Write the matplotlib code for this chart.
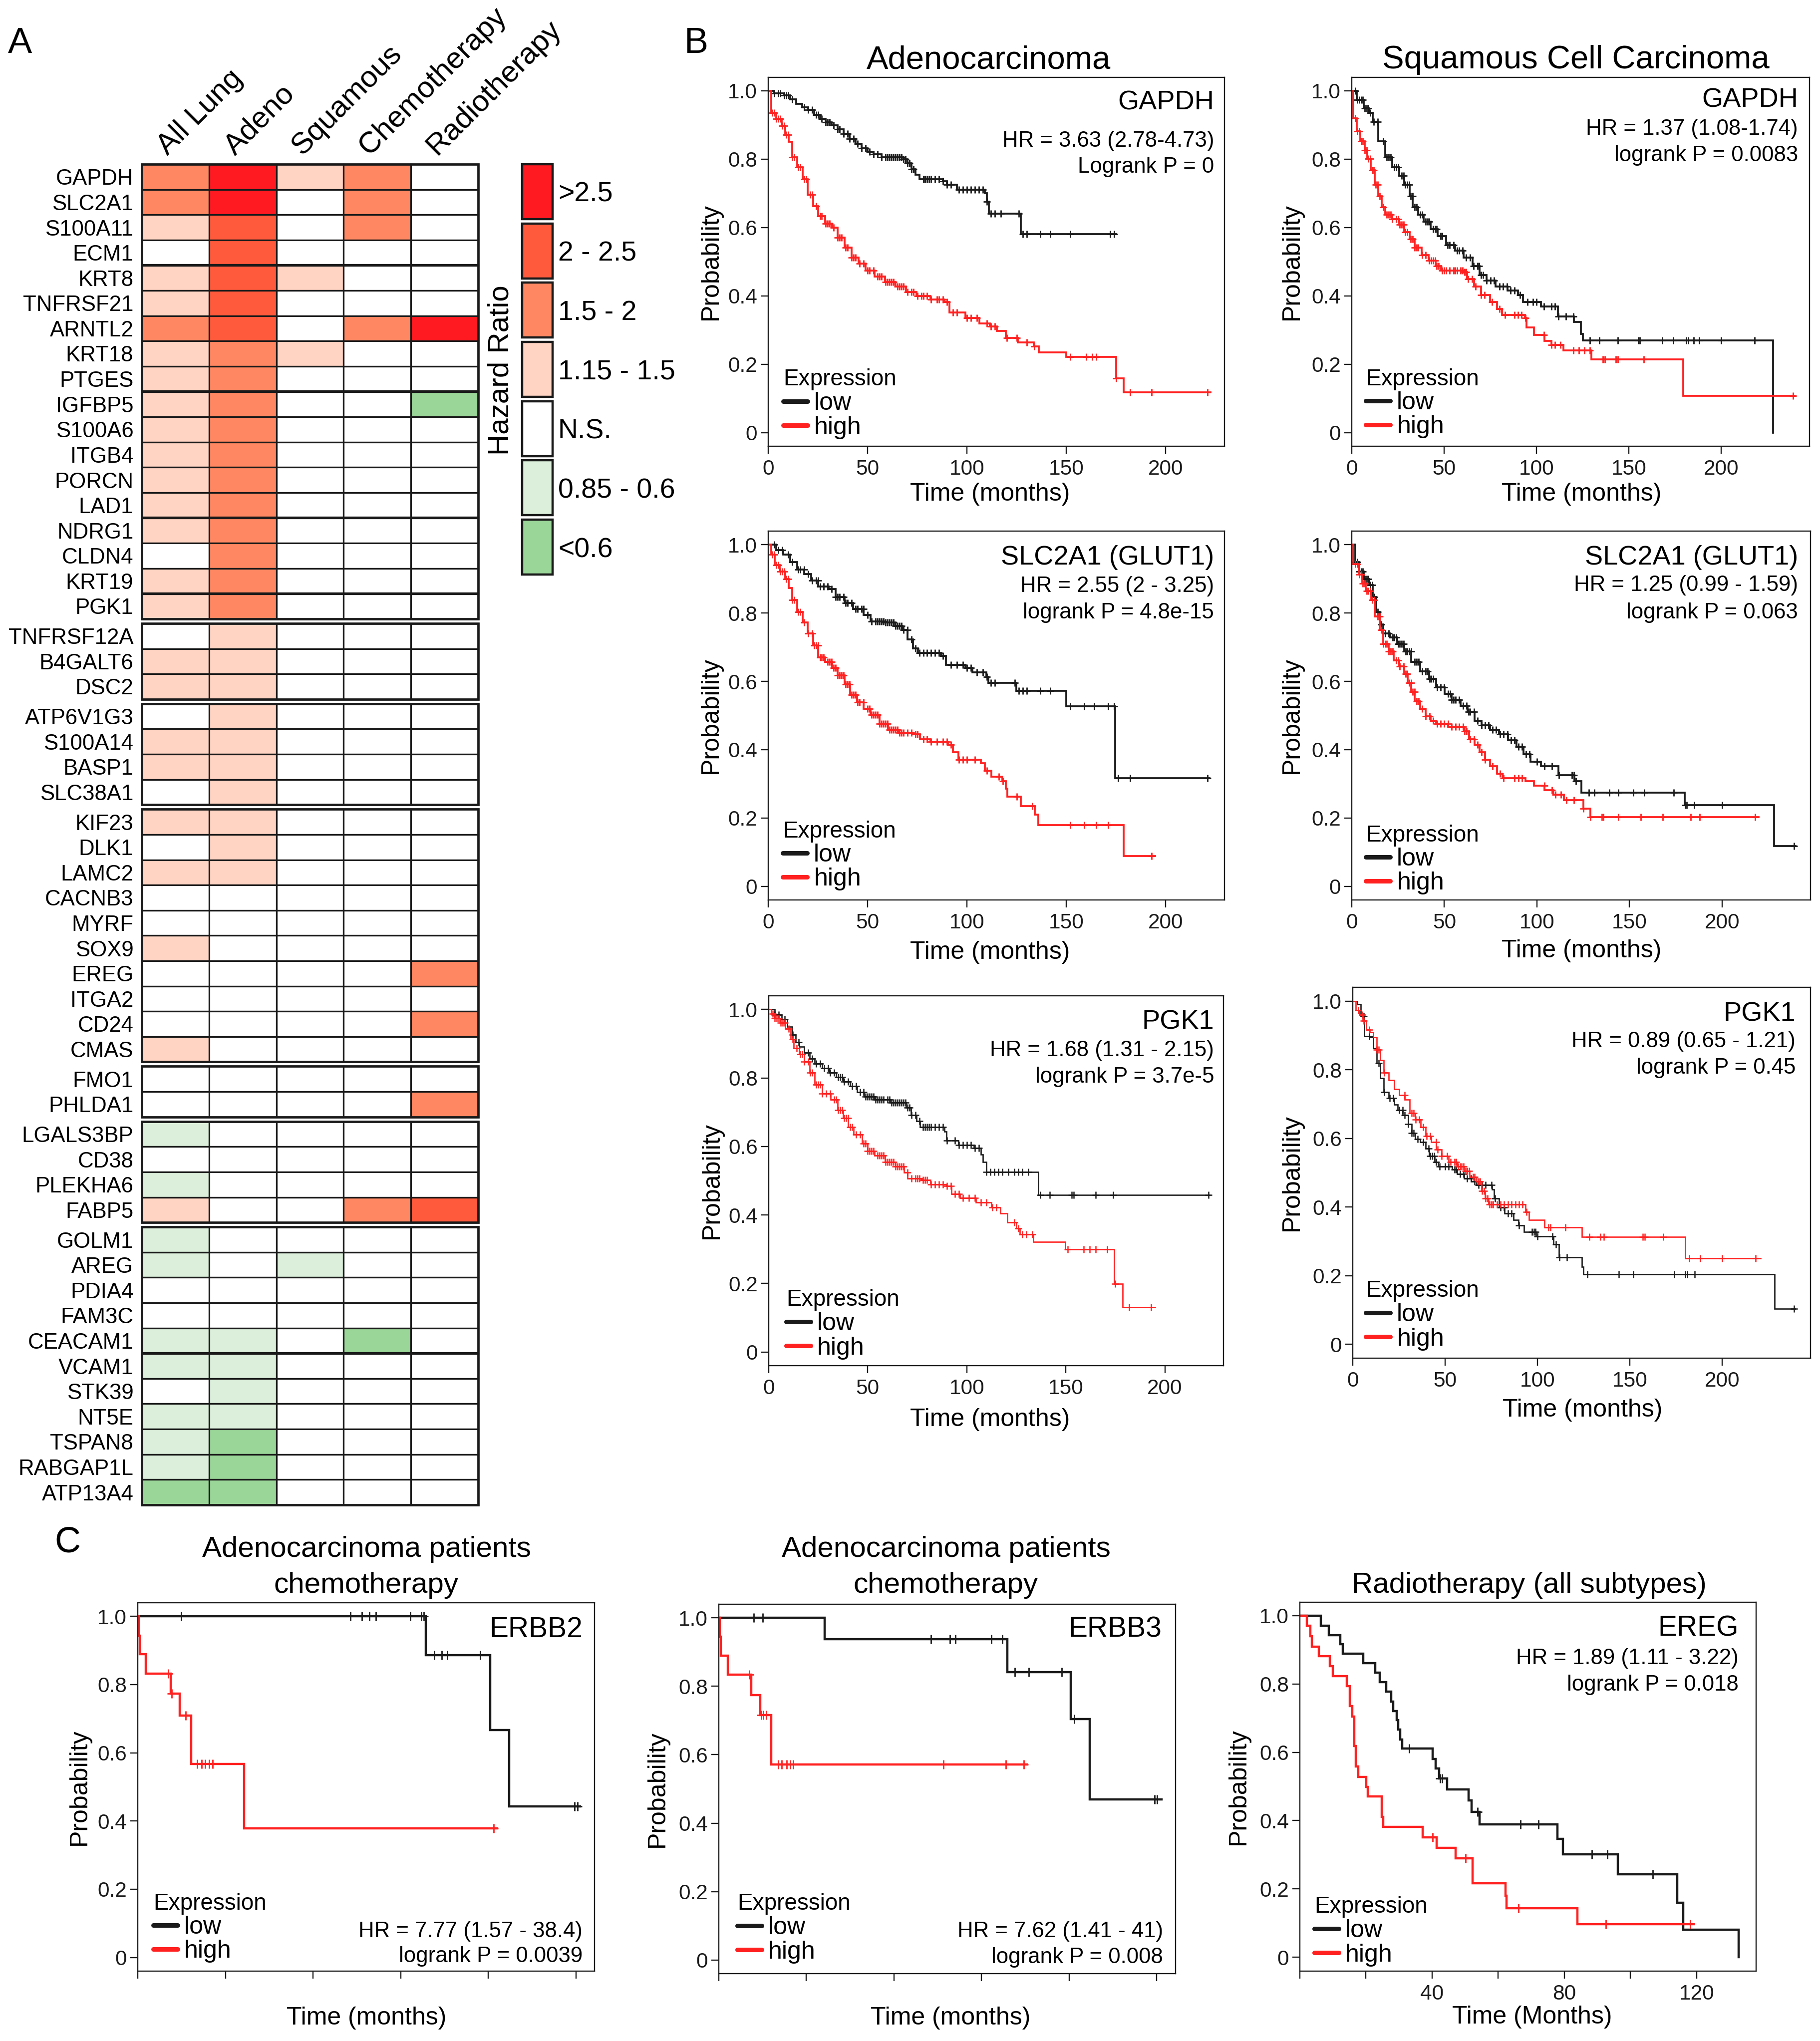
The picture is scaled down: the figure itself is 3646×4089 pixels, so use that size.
import numpy as np
import matplotlib
matplotlib.use("Agg")
import matplotlib.pyplot as plt
from matplotlib.lines import Line2D
from matplotlib.patches import Rectangle

plt.rcParams['font.family'] = ['Liberation Sans', 'DejaVu Sans']
plt.rcParams['axes.linewidth'] = 1.7

# ------------------------------------------------------------------ data: heatmap
genes = ['GAPDH', 'SLC2A1', 'S100A11', 'ECM1', 'KRT8', 'TNFRSF21', 'ARNTL2', 'KRT18', 'PTGES',
         'IGFBP5', 'S100A6', 'ITGB4', 'PORCN', 'LAD1', 'NDRG1', 'CLDN4', 'KRT19', 'PGK1',
         'TNFRSF12A', 'B4GALT6', 'DSC2',
         'ATP6V1G3', 'S100A14', 'BASP1', 'SLC38A1',
         'KIF23', 'DLK1', 'LAMC2', 'CACNB3', 'MYRF', 'SOX9', 'EREG', 'ITGA2', 'CD24', 'CMAS',
         'FMO1', 'PHLDA1',
         'LGALS3BP', 'CD38', 'PLEKHA6', 'FABP5',
         'GOLM1', 'AREG', 'PDIA4', 'FAM3C', 'CEACAM1', 'VCAM1', 'STK39', 'NT5E', 'TSPAN8',
         'RABGAP1L', 'ATP13A4']
conditions = ['All Lung', 'Adeno', 'Squamous', 'Chemotherapy', 'Radiotherapy']
hr_levels = ['>2.5', '2 - 2.5', '1.5 - 2', '1.15 - 1.5', 'N.S.', '0.85 - 0.6', '<0.6']
# hazard-ratio class of each gene (index into hr_levels)
all_lung = [2, 2, 3, 4, 3, 3, 2, 3, 3, 3, 3, 3, 3, 3, 3, 4, 3, 3,
            4, 3, 3,
            4, 3, 3, 4,
            3, 4, 3, 4, 4, 3, 4, 4, 4, 3,
            4, 4,
            5, 4, 5, 3,
            5, 5, 4, 4, 5, 5, 4, 5, 5, 5, 6]
adeno = [0, 0, 1, 1, 1, 1, 1, 2, 2, 2, 2, 2, 2, 2, 2, 2, 2, 2,
         3, 3, 3,
         3, 3, 3, 3,
         3, 3, 3, 4, 4, 4, 4, 4, 4, 4,
         4, 4,
         4, 4, 4, 4,
         4, 4, 4, 4, 5, 5, 5, 5, 6, 6, 6]
squamous = [3, 4, 4, 4, 3, 4, 4, 3, 4, 4, 4, 4, 4, 4, 4, 4, 4, 4,
            4, 4, 4,
            4, 4, 4, 4,
            4, 4, 4, 4, 4, 4, 4, 4, 4, 4,
            4, 4,
            4, 4, 4, 4,
            4, 5, 4, 4, 4, 4, 4, 4, 4, 4, 4]
chemotherapy = [2, 2, 2, 4, 4, 4, 2, 4, 4, 4, 4, 4, 4, 4, 4, 4, 4, 4,
                4, 4, 4,
                4, 4, 4, 4,
                4, 4, 4, 4, 4, 4, 4, 4, 4, 4,
                4, 4,
                4, 4, 4, 2,
                4, 4, 4, 4, 6, 4, 4, 4, 4, 4, 4]
radiotherapy = [4, 4, 4, 4, 4, 4, 0, 4, 4, 6, 4, 4, 4, 4, 4, 4, 4, 4,
                4, 4, 4,
                4, 4, 4, 4,
                4, 4, 4, 4, 4, 4, 2, 4, 2, 4,
                4, 2,
                4, 4, 4, 1,
                4, 4, 4, 4, 4, 4, 4, 4, 4, 4, 4]
group_sizes = [18, 3, 4, 10, 2, 4, 11]
thick_after = [4, 9, 14, 17, 46]

# ------------------------------------------------------------------ data: KM curves
prob_ticks = [0, 0.2, 0.4, 0.6, 0.8, 1.0]
prob_labels = ['0', '0.2', '0.4', '0.6', '0.8', '1.0']
month_ticks = [0, 50, 100, 150, 200]

# B1 Adenocarcinoma GAPDH
b1_low_t = [0, 3, 8, 11, 14, 17, 20, 23, 26, 29, 32, 35, 38, 41, 44, 47, 50, 53, 57, 68, 70, 72, 74, 76, 88, 90, 95, 109, 110, 111, 127, 175]
b1_low_s = [1.0, 0.993, 0.987, 0.975, 0.962, 0.952, 0.944, 0.93, 0.918, 0.908, 0.899, 0.887, 0.874, 0.86, 0.845, 0.832, 0.822, 0.814, 0.806, 0.80, 0.788, 0.77, 0.755, 0.742, 0.735, 0.725, 0.71, 0.70, 0.676, 0.64, 0.58, 0.58]
b1_low_c = [3, 5, 6, 8, 9, 10, 12, 18, 20, 22, 24, 25, 27, 29, 30, 31, 33, 35, 36, 38, 40, 41, 43, 45, 47, 49, 51, 53, 55, 57, 59, 60, 61, 62, 63, 64, 65, 66, 67, 68, 69, 70, 71, 72, 73, 78, 79, 80, 81, 82, 84, 86, 88, 90, 92, 96, 98, 100, 102, 104, 106, 108, 110, 112, 114, 117, 126, 128, 130, 137, 142, 152, 172, 174]
b1_high_t = [0, 1.4, 4, 6.7, 8.5, 10.2, 12, 14.6, 17.3, 19.9, 22.6, 25.2, 28.7, 32.2, 34.9, 38.4, 41.9, 45.5, 49, 53.4, 58.7, 64, 69.3, 74.5, 81.6, 88.6, 91.3, 99.2, 106.3, 111.5, 115, 119.5, 125.6, 133.6, 136.2, 150, 175, 178.9, 222.5]
b1_high_s = [1.0, 0.935, 0.918, 0.898, 0.872, 0.851, 0.805, 0.776, 0.742, 0.696, 0.663, 0.633, 0.612, 0.60, 0.57, 0.541, 0.512, 0.495, 0.474, 0.457, 0.44, 0.428, 0.411, 0.40, 0.39, 0.382, 0.352, 0.336, 0.319, 0.31, 0.298, 0.277, 0.264, 0.252, 0.235, 0.222, 0.159, 0.117, 0.117]
b1_high_c = [2, 3, 4, 5, 6, 7, 8, 9, 10, 12, 13, 15, 16, 18, 19, 21, 22, 24, 26, 27, 29, 30, 31, 33, 35, 36, 37, 39, 40, 42, 43, 44, 46, 48, 50, 51, 53, 55, 56, 57, 59, 60, 61, 62, 63, 65, 66, 67, 68, 70, 72, 73, 75, 77, 78, 80, 82, 85, 86, 88, 90, 93, 95, 100, 102, 105, 110, 112, 114, 120, 125, 130, 134, 152, 160, 163, 165, 175, 182, 193, 221]

# B2 Squamous GAPDH
b2_low_t = [0, 2.8, 6.6, 9.5, 11.4, 14.2, 18, 21.8, 25.6, 28.4, 31.3, 33.1, 36, 38.8, 42.6, 46.4, 51.1, 55.9, 60.6, 65.3, 69.1, 72.9, 77.7, 84.3, 90, 92.8, 102.3, 111.7, 120.3, 124, 125, 228.2]
b2_low_s = [1.0, 0.973, 0.948, 0.935, 0.91, 0.852, 0.805, 0.776, 0.751, 0.726, 0.692, 0.659, 0.638, 0.617, 0.596, 0.575, 0.549, 0.533, 0.512, 0.487, 0.461, 0.445, 0.428, 0.415, 0.403, 0.382, 0.369, 0.34, 0.323, 0.289, 0.27, 0.0]
b2_low_c = [2, 3, 4, 5, 6, 7, 8, 9, 10, 12, 14, 17, 19, 20, 21, 23, 24, 25, 27, 28, 29, 30, 31, 32, 33, 34, 35, 37, 38, 40, 41, 42, 44, 45, 46, 48, 49, 52, 53, 55, 57, 58, 60, 62, 64, 66, 68, 69, 70, 71, 73, 75, 77, 80, 82, 84, 86, 88, 91, 95, 98, 100, 104, 108, 110, 112, 116, 120, 129, 134, 144, 155, 156, 168, 174, 181, 182, 185, 188, 200, 218]
b2_high_t = [0, 0.9, 2.8, 4.7, 7, 8.5, 10.4, 12.3, 14.2, 16.1, 18, 21.8, 25.6, 28.4, 31.3, 34, 37.9, 41.7, 45.5, 48.3, 60.6, 62.5, 66.3, 70, 74.8, 78.6, 81.4, 93.8, 94.7, 98.5, 104.2, 108, 114.6, 129.7, 179.4, 239.6]
b2_high_s = [1.0, 0.919, 0.881, 0.852, 0.826, 0.801, 0.768, 0.726, 0.692, 0.659, 0.638, 0.625, 0.608, 0.587, 0.566, 0.541, 0.52, 0.503, 0.487, 0.474, 0.47, 0.449, 0.428, 0.403, 0.382, 0.361, 0.344, 0.336, 0.307, 0.285, 0.268, 0.256, 0.241, 0.214, 0.107, 0.107]
b2_high_c = [2, 3, 4, 5, 6, 7, 8, 9, 10, 11, 12, 13, 14, 15, 17, 19, 20, 21, 22, 24, 25, 26, 27, 28, 29, 30, 32, 33, 34, 35, 36, 38, 40, 42, 43, 44, 45, 46, 47, 49, 50, 51, 53, 55, 56, 57, 59, 60, 61, 62, 63, 65, 67, 70, 72, 76, 80, 83, 88, 90, 92, 94, 104, 108, 110, 113, 120, 123, 126, 129, 136, 137, 143, 144, 158, 239]

# B3 Adenocarcinoma SLC2A1
b3_low_t = [0, 4, 7.6, 11.1, 14.6, 18.1, 21.7, 25.2, 30.5, 34, 38.4, 42.8, 48.1, 51.6, 58.7, 64, 67.5, 70.1, 72.8, 75.4, 86.9, 89.5, 99.2, 102.7, 109.8, 110.7, 124.8, 150, 174.6, 222]
b3_low_s = [1.0, 0.984, 0.971, 0.949, 0.927, 0.914, 0.896, 0.878, 0.87, 0.847, 0.829, 0.812, 0.794, 0.776, 0.772, 0.763, 0.75, 0.723, 0.697, 0.683, 0.675, 0.648, 0.639, 0.626, 0.613, 0.595, 0.573, 0.527, 0.317, 0.317]
b3_low_c = [3, 5, 7, 10, 12, 15, 16, 18, 20, 22, 24, 25, 26, 28, 30, 32, 34, 35, 36, 38, 39, 40, 42, 44, 45, 47, 48, 50, 52, 54, 55, 56, 57, 58, 59, 60, 61, 62, 63, 64, 65, 66, 67, 68, 70, 72, 74, 76, 78, 80, 82, 84, 86, 88, 92, 95, 98, 100, 102, 105, 108, 110, 112, 114, 124, 126, 128, 130, 137, 142, 152, 159, 164, 171, 174, 176, 182, 221]
b3_high_t = [0, 1.4, 3.2, 5.8, 8.5, 10.2, 12, 14.6, 17.3, 19.9, 22.6, 25.2, 28.7, 32.2, 34.9, 38.4, 41.1, 44.6, 48.1, 51.6, 56, 60.4, 65.7, 72.8, 76.3, 81.6, 90.4, 93, 95.7, 107.1, 108.9, 112.4, 117.7, 119.5, 120.4, 127, 134.1, 135.9, 178.9, 194.7]
b3_high_s = [1.0, 0.971, 0.94, 0.922, 0.90, 0.874, 0.838, 0.803, 0.772, 0.741, 0.706, 0.67, 0.657, 0.639, 0.617, 0.591, 0.56, 0.538, 0.52, 0.502, 0.476, 0.458, 0.449, 0.445, 0.431, 0.424, 0.414, 0.392, 0.37, 0.361, 0.339, 0.321, 0.308, 0.286, 0.262, 0.235, 0.21, 0.179, 0.089, 0.089]
b3_high_c = [2, 3, 4, 5, 6, 7, 8, 9, 10, 12, 13, 15, 16, 18, 20, 22, 23, 24, 25, 26, 27, 28, 30, 31, 32, 33, 34, 35, 36, 37, 38, 39, 40, 41, 42, 43, 44, 45, 46, 48, 50, 51, 52, 53, 54, 55, 56, 57, 58, 59, 60, 61, 62, 63, 64, 65, 66, 67, 68, 70, 72, 74, 75, 78, 80, 82, 85, 88, 90, 92, 96, 98, 100, 104, 110, 116, 118, 125, 133, 152, 159, 165, 171, 193]

# B4 Squamous SLC2A1
b4_low_t = [0, 1.9, 3.8, 6.6, 9.5, 11.4, 13.3, 15.2, 17, 20.8, 24.6, 28.4, 32.2, 36.9, 41.7, 45.5, 50.2, 54, 58.7, 62.5, 66.3, 70, 74.8, 79.5, 84.3, 89, 92.8, 96.6, 102.3, 111.7, 120.3, 124, 179.9, 228.2, 239.6]
b4_low_s = [1.0, 0.949, 0.922, 0.90, 0.882, 0.847, 0.803, 0.767, 0.741, 0.728, 0.71, 0.688, 0.657, 0.63, 0.608, 0.582, 0.564, 0.546, 0.529, 0.511, 0.485, 0.471, 0.458, 0.445, 0.427, 0.409, 0.387, 0.365, 0.352, 0.325, 0.308, 0.274, 0.237, 0.118, 0.118]
b4_low_c = [2, 3, 4, 5, 6, 7, 8, 9, 10, 11, 12, 14, 16, 18, 20, 22, 23, 24, 25, 26, 27, 28, 29, 30, 31, 32, 34, 35, 36, 38, 40, 41, 42, 43, 44, 46, 48, 50, 52, 53, 54, 55, 56, 58, 60, 62, 63, 64, 66, 68, 70, 72, 74, 76, 78, 80, 82, 84, 86, 88, 90, 92, 94, 96, 100, 104, 108, 112, 119, 120, 121, 128, 131, 139, 144, 152, 158, 174, 180, 181, 185, 200, 239]
b4_high_t = [0, 0.9, 3.8, 5.7, 7.6, 10.4, 12.3, 15.2, 17, 19.9, 22.7, 25.6, 28.4, 30.3, 32.2, 34.1, 36.9, 39.8, 42.6, 45.5, 52.1, 60.6, 63.4, 66.3, 69.1, 72, 74.8, 78.6, 81.4, 93.8, 98.5, 104.2, 108.9, 114.6, 125, 128.8, 219.7]
b4_high_s = [1.0, 0.944, 0.913, 0.887, 0.865, 0.838, 0.79, 0.75, 0.71, 0.688, 0.661, 0.644, 0.622, 0.595, 0.569, 0.542, 0.52, 0.498, 0.485, 0.476, 0.467, 0.454, 0.431, 0.414, 0.392, 0.37, 0.352, 0.33, 0.317, 0.308, 0.294, 0.281, 0.268, 0.253, 0.228, 0.203, 0.203]
b4_high_c = [2, 3, 4, 5, 6, 7, 8, 9, 10, 11, 12, 14, 15, 16, 17, 18, 19, 20, 21, 22, 24, 25, 26, 28, 29, 30, 31, 32, 33, 34, 35, 36, 38, 40, 42, 44, 46, 48, 50, 52, 54, 56, 58, 60, 61, 62, 64, 66, 68, 70, 72, 76, 80, 82, 88, 90, 92, 104, 108, 110, 113, 116, 120, 125, 129, 135, 136, 144, 156, 168, 183, 188, 218]

# B5 Adenocarcinoma PGK1
b5_low_t = [0, 3, 6.5, 9.2, 11.8, 13.6, 15.4, 18, 20.7, 23.3, 26.9, 30.4, 33.9, 37.5, 41, 44.5, 48.1, 53.4, 61.3, 69.3, 71.9, 74.6, 76.3, 88.7, 89.6, 95.8, 103.7, 107.2, 108.1, 109.9, 136, 222.6]
b5_low_s = [1.0, 0.984, 0.971, 0.949, 0.927, 0.905, 0.891, 0.874, 0.856, 0.842, 0.829, 0.816, 0.803, 0.789, 0.776, 0.759, 0.745, 0.737, 0.728, 0.714, 0.692, 0.674, 0.657, 0.644, 0.617, 0.604, 0.595, 0.577, 0.555, 0.526, 0.458, 0.458]
b5_low_c = [3, 5, 8, 12, 15, 20, 22, 24, 26, 28, 30, 31, 33, 35, 36, 37, 38, 40, 42, 44, 46, 48, 49, 50, 51, 52, 53, 54, 55, 56, 57, 58, 60, 61, 62, 63, 64, 65, 66, 67, 68, 69, 70, 71, 72, 74, 76, 78, 79, 80, 81, 82, 84, 86, 88, 90, 94, 96, 98, 100, 102, 104, 106, 110, 112, 114, 116, 118, 121, 124, 126, 128, 131, 137, 142, 153, 154, 165, 174, 222]
b5_high_t = [0, 1.2, 3, 5.7, 8.3, 11, 12.7, 15.4, 18, 20.7, 23.3, 26.9, 31.3, 34.8, 37.5, 40.1, 42.8, 47.2, 49.8, 53.4, 58.7, 64, 68.4, 70.1, 77.2, 81.6, 89.6, 92.2, 96.6, 104.6, 112.5, 117, 120.5, 124.9, 126.7, 133.7, 149.6, 174.4, 178.8, 195]
b5_high_s = [1.0, 0.988, 0.975, 0.962, 0.944, 0.913, 0.887, 0.869, 0.847, 0.816, 0.781, 0.754, 0.737, 0.706, 0.683, 0.657, 0.635, 0.608, 0.586, 0.573, 0.555, 0.542, 0.524, 0.507, 0.502, 0.489, 0.485, 0.462, 0.449, 0.436, 0.422, 0.405, 0.378, 0.361, 0.343, 0.321, 0.299, 0.199, 0.131, 0.131]
b5_high_c = [2, 3, 4, 5, 6, 7, 8, 10, 12, 14, 16, 17, 18, 20, 21, 22, 24, 25, 26, 27, 29, 31, 33, 34, 35, 36, 37, 38, 39, 40, 41, 42, 44, 46, 48, 49, 50, 51, 52, 53, 55, 56, 57, 58, 59, 60, 61, 62, 63, 64, 65, 66, 67, 68, 70, 72, 74, 75, 76, 78, 79, 80, 82, 84, 86, 88, 90, 92, 94, 96, 98, 101, 104, 107, 110, 113, 115, 124, 126, 128, 130, 133, 151, 159, 162, 165, 171, 175, 182, 193]

# B6 Squamous PGK1
b6_low_t = [0, 2.5, 4.4, 6.3, 9.1, 11, 12.9, 14.8, 16.7, 19.5, 22.4, 24.3, 27.1, 30, 31.9, 33.8, 36.6, 39.5, 41.4, 44.2, 46.1, 53.7, 56.5, 60.3, 64.1, 67, 75.5, 76.5, 79.3, 82.2, 86.9, 89.8, 92.6, 99.2, 108.7, 111.6, 123.9, 124.9, 228.3, 239.3]
b6_low_s = [1.0, 0.991, 0.956, 0.898, 0.894, 0.863, 0.819, 0.775, 0.735, 0.717, 0.699, 0.682, 0.668, 0.642, 0.615, 0.598, 0.589, 0.571, 0.549, 0.531, 0.518, 0.509, 0.496, 0.483, 0.474, 0.465, 0.452, 0.425, 0.399, 0.381, 0.363, 0.346, 0.328, 0.315, 0.292, 0.253, 0.226, 0.204, 0.104, 0.104]
b6_low_c = [6, 9, 14, 17, 20, 22, 25, 27, 28, 30, 32, 33, 35, 38, 41, 42, 43, 44, 45, 47, 50, 52, 55, 56, 58, 60, 62, 64, 66, 68, 70, 72, 75, 77, 80, 82, 84, 86, 90, 97, 98, 99, 100, 108, 110, 112, 116, 127, 144, 152, 174, 180, 181, 185, 239]
b6_high_t = [0, 1.5, 3.4, 5.3, 7.2, 9.1, 11, 12.9, 14.8, 16.7, 19.5, 22.4, 25.2, 28.1, 30.9, 33.8, 36.7, 39.5, 42.3, 45.2, 48, 51.8, 56.5, 60.3, 63.2, 67, 69.8, 71.7, 73.6, 93.5, 95.4, 103.9, 123.9, 179.9, 220.7]
b6_high_s = [1.0, 0.973, 0.96, 0.943, 0.916, 0.909, 0.894, 0.859, 0.828, 0.792, 0.77, 0.744, 0.726, 0.713, 0.673, 0.655, 0.633, 0.607, 0.589, 0.567, 0.549, 0.531, 0.518, 0.505, 0.487, 0.474, 0.447, 0.425, 0.408, 0.386, 0.363, 0.341, 0.313, 0.251, 0.251]
b6_high_c = [3, 5, 6, 9, 13, 14, 17, 28, 32, 33, 34, 36, 38, 40, 42, 45, 46, 48, 51, 53, 55, 56, 57, 58, 59, 60, 61, 62, 63, 65, 66, 68, 69, 70, 71, 72, 73, 74, 75, 76, 78, 80, 82, 84, 86, 88, 90, 92, 94, 106, 107, 115, 128, 134, 136, 157, 158, 168, 182, 188, 200, 218]

# C1 ERBB2 (adeno, chemotherapy)
c1_low_t = [0, 65.7, 80.4, 84.7, 100.9]
c1_low_s = [1.0, 0.886, 0.667, 0.443, 0.443]
c1_low_c = [9.9, 48.5, 51.1, 52.8, 54.3, 62.2, 64.7, 65.2, 67.7, 69.3, 70.6, 78.1, 99.6, 100.3]
c1_high_t = [0, 0.2, 0.4, 1.8, 7.5, 9.6, 12.2, 24.3, 82]
c1_high_s = [1.0, 0.944, 0.889, 0.832, 0.774, 0.709, 0.567, 0.378, 0.378]
c1_high_c = [6.9, 7.8, 10.9, 13.5, 14.6, 15.4, 16.3, 17.1, 81.2]

# C2 ERBB3 (adeno, chemotherapy)
c2_low_t = [0, 24.2, 65.9, 80.4, 84.7, 101.1]
c2_low_s = [1.0, 0.938, 0.842, 0.704, 0.47, 0.47]
c2_low_c = [8, 10, 48.4, 52.8, 54, 62.2, 64.7, 67.6, 70.8, 78.3, 81.2, 99.5, 100.1]
c2_high_t = [0, 0.2, 0.4, 2, 7.4, 9.5, 12, 70.3]
c2_high_s = [1.0, 0.945, 0.889, 0.834, 0.774, 0.716, 0.572, 0.572]
c2_high_c = [7, 9.7, 10.2, 10.8, 13.6, 14.4, 15.5, 16.3, 17, 51.3, 65.5, 69.6]

# C3 EREG (radiotherapy, all subtypes)
c3_low_t = [0, 6.3, 8.8, 12.2, 13, 19.1, 22.8, 24.2, 26.1, 27.7, 28.2, 29.3, 29.7, 30.3, 30.9, 40.1, 41.1, 42.2, 44.5, 51, 52, 54.3, 77.9, 79.6, 96.2, 114.2, 116, 132.7]
c3_low_s = [1.0, 0.97, 0.943, 0.916, 0.889, 0.861, 0.833, 0.805, 0.777, 0.749, 0.721, 0.694, 0.666, 0.638, 0.611, 0.581, 0.552, 0.524, 0.491, 0.459, 0.426, 0.389, 0.346, 0.302, 0.243, 0.16, 0.08, 0.0]
c3_low_c = [33, 42.4, 43, 53.7, 66.7, 72.2, 88.3, 93, 106.8]
c3_high_t = [0, 2.1, 3.2, 3.6, 5.7, 9, 10, 14.2, 15.1, 15.9, 16.5, 16.9, 17.7, 20.1, 20.5, 24.8, 25.2, 37.2, 41.3, 47.1, 52.2, 62.2, 62.5, 84, 119.2]
c3_high_s = [1.0, 0.97, 0.94, 0.909, 0.881, 0.852, 0.823, 0.794, 0.735, 0.705, 0.618, 0.558, 0.528, 0.499, 0.471, 0.411, 0.382, 0.351, 0.321, 0.29, 0.217, 0.18, 0.144, 0.097, 0.097]
c3_high_c = [40.1, 50.1, 66.1, 92.6, 118]

# ------------------------------------------------------------------ figure
W, H = 3646, 4089
fig = plt.figure(figsize=(W / 100, H / 100), dpi=100)
INK = '#1a1a1a'
RED = '#ff2020'


def fx(x):
    return x / W


def fy(y):
    return 1 - y / H


def px_axes(l, t, r, b):
    return fig.add_axes([fx(l), fy(b), (r - l) / W, (b - t) / H])


# ---------------- panel A: heatmap
level_colors = ['#ff1a22', '#ff5a3c', '#ff8862', '#ffd4c3', '#ffffff', '#dcefdb', '#9bd699']
gap = 0.18
row_top = []
pos = 0.0
for n in group_sizes:
    for _ in range(n):
        row_top.append(pos)
        pos += 1
    pos += gap
total_h = pos - gap
row_top = np.array(row_top)
row_px = 50.6
hm = px_axes(284, 329, 958, 329 + total_h * row_px)
columns = [all_lung, adeno, squamous, chemotherapy, radiotherapy]
for j, col in enumerate(columns):
    hm.bar(np.full(len(genes), j + 0.5), np.ones(len(genes)), width=1.0, bottom=row_top,
           color=[level_colors[c] for c in col], edgecolor=INK, linewidth=2.3, clip_on=False)
start = 0
for n in group_sizes:
    hm.add_patch(Rectangle((0, row_top[start]), 5, n, fill=False, lw=3.4, ec=INK, clip_on=False))
    start += n
for k in thick_after:
    hm.hlines(row_top[k - 1] + 1, 0, 5, lw=3.8, color=INK, clip_on=False)
hm.set_xlim(0, 5)
hm.set_ylim(total_h, 0)
hm.set_xticks([])
hm.set_yticks(row_top + 0.5)
hm.set_yticklabels(genes, fontsize=31.5)
hm.tick_params(axis='y', length=0, pad=12)
for s in hm.spines.values():
    s.set_visible(False)
for j, name in enumerate(conditions):
    hm.text(j + 0.38, -0.32, name, rotation=45, rotation_mode='anchor', ha='left',
            va='baseline', fontsize=43, clip_on=False)

lg = px_axes(1046, 329, 1107, 1151)
box_h = 110 / 118.7
nl = len(hr_levels)
lg.bar(np.full(nl, 0.5), np.full(nl, box_h), width=1.0, bottom=np.arange(nl),
       color=level_colors, edgecolor=INK, linewidth=3.2, clip_on=False)
lg.set_xlim(0, 1)
lg.set_ylim(nl - 1 + box_h, 0)
lg.axis('off')
for i, lab in enumerate(hr_levels):
    lg.text(1.18, i + box_h / 2, lab, ha='left', va='center_baseline', fontsize=40, clip_on=False)
fig.text(fx(1004), fy(742), 'Hazard Ratio', rotation=90, ha='center', va='center', fontsize=42)

fig.text(fx(40), fy(87), 'A', ha='center', va='center', fontsize=52)
fig.text(fx(1394), fy(87), 'B', ha='center', va='center', fontsize=52)
fig.text(fx(135), fy(3091), 'C', ha='center', va='center', fontsize=52)

fig.text(fx(1981), fy(114), 'Adenocarcinoma', ha='center', va='center_baseline', fontsize=47)
fig.text(fx(3157), fy(114), 'Squamous Cell Carcinoma', ha='center', va='center_baseline', fontsize=47)
fig.text(fx(734), fy(3098), 'Adenocarcinoma patients', ha='center', va='center_baseline', fontsize=42)
fig.text(fx(734), fy(3170), 'chemotherapy', ha='center', va='center_baseline', fontsize=42)
fig.text(fx(1895), fy(3098), 'Adenocarcinoma patients', ha='center', va='center_baseline', fontsize=42)
fig.text(fx(1895), fy(3170), 'chemotherapy', ha='center', va='center_baseline', fontsize=42)
fig.text(fx(3063), fy(3170), 'Radiotherapy (all subtypes)', ha='center', va='center_baseline', fontsize=42)


# ---------------- KM panels
def km_panel(p):
    ax = px_axes(*p['box'])
    for (t, s, c), col in ((p['low'], INK), (p['high'], RED)):
        t = np.asarray(t, float)
        s = np.asarray(s, float)
        c = np.asarray(c, float)
        ax.step(t, s, where='post', color=col, lw=p['lw'], solid_joinstyle='miter')
        idx = np.searchsorted(t, c, side='right') - 1
        ax.plot(c, s[idx], ls='none', marker='+', ms=p['ms'], mew=p['mew'], color=col)
    ax.set_xlim(*p['xlim'])
    ax.set_ylim(-0.04, 1.04)
    ax.set_yticks(prob_ticks)
    ax.set_yticklabels(prob_labels)
    ax.set_xticks(p['xt'])
    ax.set_xticklabels(p['xtl'])
    ax.tick_params(axis='both', length=11, width=1.7, labelsize=30.5, color=INK, labelcolor=INK)
    ax.tick_params(axis='y', pad=5)
    ax.tick_params(axis='x', pad=8)
    for s in ax.spines.values():
        s.set_color(INK)
    gx, gy = p['gene_pos']
    fig.text(fx(gx), fy(gy), p['gene'], ha='right', va='center_baseline', fontsize=p['gfs'])
    hx, hy, py = p['hr_pos']
    fig.text(fx(hx), fy(hy), p['hr'], ha='right', va='center_baseline', fontsize=31.5)
    fig.text(fx(hx), fy(py), p['p'], ha='right', va='center_baseline', fontsize=31.5)
    fig.text(fx(p['ylab_x']), fy((p['box'][1] + p['box'][3]) / 2), 'Probability', rotation=90,
             ha='center', va='center', fontsize=36)
    xx, xy = p['xlab']
    fig.text(fx(xx), fy(xy), p['xlabel'], ha='center', va='center', fontsize=36)
    handles = [Line2D([], [], color=INK, lw=6.5, solid_capstyle='round'),
               Line2D([], [], color=RED, lw=6.5, solid_capstyle='round')]
    lx, ly = p['leg']
    ax.legend(handles, ['low', 'high'], title='Expression', loc='upper left',
              bbox_to_anchor=(fx(lx), fy(ly - 21.5)), bbox_transform=fig.transFigure,
              frameon=False, fontsize=36, title_fontsize=33, alignment='left',
              borderpad=0, borderaxespad=0, handlelength=0.98, handletextpad=0.26,
              labelspacing=0.05)
    return ax


B_left_x = dict(xlim=(0, 229.6), xt=month_ticks, xtl=[str(v) for v in month_ticks])
B_right_x = dict(xlim=(0, 247.8), xt=month_ticks, xtl=[str(v) for v in month_ticks])
c_ticks = [0, 20, 40, 60, 80, 100]
c3_ticks = [0, 20, 40, 60, 80, 100, 120]

panels = [
    dict(box=(1539, 154.5, 2453, 894), **B_left_x, low=(b1_low_t, b1_low_s, b1_low_c),
         high=(b1_high_t, b1_high_s, b1_high_c), lw=2.7, ms=10, mew=2.0, gene='GAPDH', gfs=39,
         hr='HR = 3.63 (2.78-4.73)', p='Logrank P = 0', gene_pos=(2432, 200), hr_pos=(2432, 278, 330),
         leg=(1569, 760), ylab_x=1424, xlab=(1983, 990), xlabel='Time (months)'),
    dict(box=(2708, 154.5, 3625, 894), **B_right_x, low=(b2_low_t, b2_low_s, b2_low_c),
         high=(b2_high_t, b2_high_s, b2_high_c), lw=2.7, ms=10, mew=2.0, gene='GAPDH', gfs=39,
         hr='HR = 1.37 (1.08-1.74)', p='logrank P = 0.0083', gene_pos=(3602, 195), hr_pos=(3602, 254, 307),
         leg=(2736, 759), ylab_x=2588, xlab=(3168, 990), xlabel='Time (months)'),
    dict(box=(1539, 1064, 2453, 1803), **B_left_x, low=(b3_low_t, b3_low_s, b3_low_c),
         high=(b3_high_t, b3_high_s, b3_high_c), lw=2.7, ms=10, mew=2.0, gene='SLC2A1 (GLUT1)', gfs=39,
         hr='HR = 2.55 (2 - 3.25)', p='logrank P = 4.8e-15', gene_pos=(2432, 1112), hr_pos=(2432, 1170, 1223),
         leg=(1568, 1665), ylab_x=1424, xlab=(1983, 1908), xlabel='Time (months)'),
    dict(box=(2708, 1064, 3627, 1803), **B_right_x, low=(b4_low_t, b4_low_s, b4_low_c),
         high=(b4_high_t, b4_high_s, b4_high_c), lw=2.7, ms=10, mew=2.0, gene='SLC2A1 (GLUT1)', gfs=39,
         hr='HR = 1.25 (0.99 - 1.59)', p='logrank P = 0.063', gene_pos=(3602, 1112), hr_pos=(3602, 1168, 1223),
         leg=(2736, 1673), ylab_x=2588, xlab=(3168, 1905), xlabel='Time (months)'),
    dict(box=(1540, 1995, 2451, 2736), **B_left_x, low=(b5_low_t, b5_low_s, b5_low_c),
         high=(b5_high_t, b5_high_s, b5_high_c), lw=1.9, ms=10, mew=1.8, gene='PGK1', gfs=39,
         hr='HR = 1.68 (1.31 - 2.15)', p='logrank P = 3.7e-5', gene_pos=(2432, 2042), hr_pos=(2432, 2100, 2153),
         leg=(1575, 2604), ylab_x=1426, xlab=(1983, 2844), xlabel='Time (months)'),
    dict(box=(2710, 1978, 3627, 2721), **B_right_x, low=(b6_low_t, b6_low_s, b6_low_c),
         high=(b6_high_t, b6_high_s, b6_high_c), lw=1.9, ms=10, mew=1.8, gene='PGK1', gfs=39,
         hr='HR = 0.89 (0.65 - 1.21)', p='logrank P = 0.45', gene_pos=(3597, 2026), hr_pos=(3597, 2082, 2135),
         leg=(2736, 2586), ylab_x=2588, xlab=(3170, 2825), xlabel='Time (months)'),
    dict(box=(276, 3211, 1191, 3949), xlim=(0, 104.2), xt=c_ticks, xtl=[''] * len(c_ticks),
         low=(c1_low_t, c1_low_s, c1_low_c), high=(c1_high_t, c1_high_s, c1_high_c), lw=3.2, ms=13, mew=2.0,
         gene='ERBB2', gfs=41, hr='HR = 7.77 (1.57 - 38.4)', p='logrank P = 0.0039',
         gene_pos=(1167, 3259), hr_pos=(1167, 3865, 3915),
         leg=(307, 3813), ylab_x=159, xlab=(734, 4043), xlabel='Time (months)'),
    dict(box=(1440, 3214, 2355, 3954), xlim=(0, 104.3), xt=c_ticks, xtl=[''] * len(c_ticks),
         low=(c2_low_t, c2_low_s, c2_low_c), high=(c2_high_t, c2_high_s, c2_high_c), lw=3.2, ms=13, mew=2.0,
         gene='ERBB3', gfs=41, hr='HR = 7.62 (1.41 - 41)', p='logrank P = 0.008',
         gene_pos=(2327, 3259), hr_pos=(2330, 3865, 3917),
         leg=(1477, 3814), ylab_x=1317, xlab=(1904, 4043), xlabel='Time (months)'),
    dict(box=(2604, 3209.5, 3518, 3948.6), xlim=(0, 138), xt=c3_ticks,
         xtl=['', '', '40', '', '80', '', '120'],
         low=(c3_low_t, c3_low_s, c3_low_c), high=(c3_high_t, c3_high_s, c3_high_c), lw=3.2, ms=13, mew=2.0,
         gene='EREG', gfs=41, hr='HR = 1.89 (1.11 - 3.22)', p='logrank P = 0.018',
         gene_pos=(3483, 3257), hr_pos=(3483, 3318, 3371),
         leg=(2633, 3820), ylab_x=2481, xlab=(3069, 4041), xlabel='Time (Months)'),
]

for p in panels:
    km_panel(p)

fig.savefig('out.png', dpi=100)
